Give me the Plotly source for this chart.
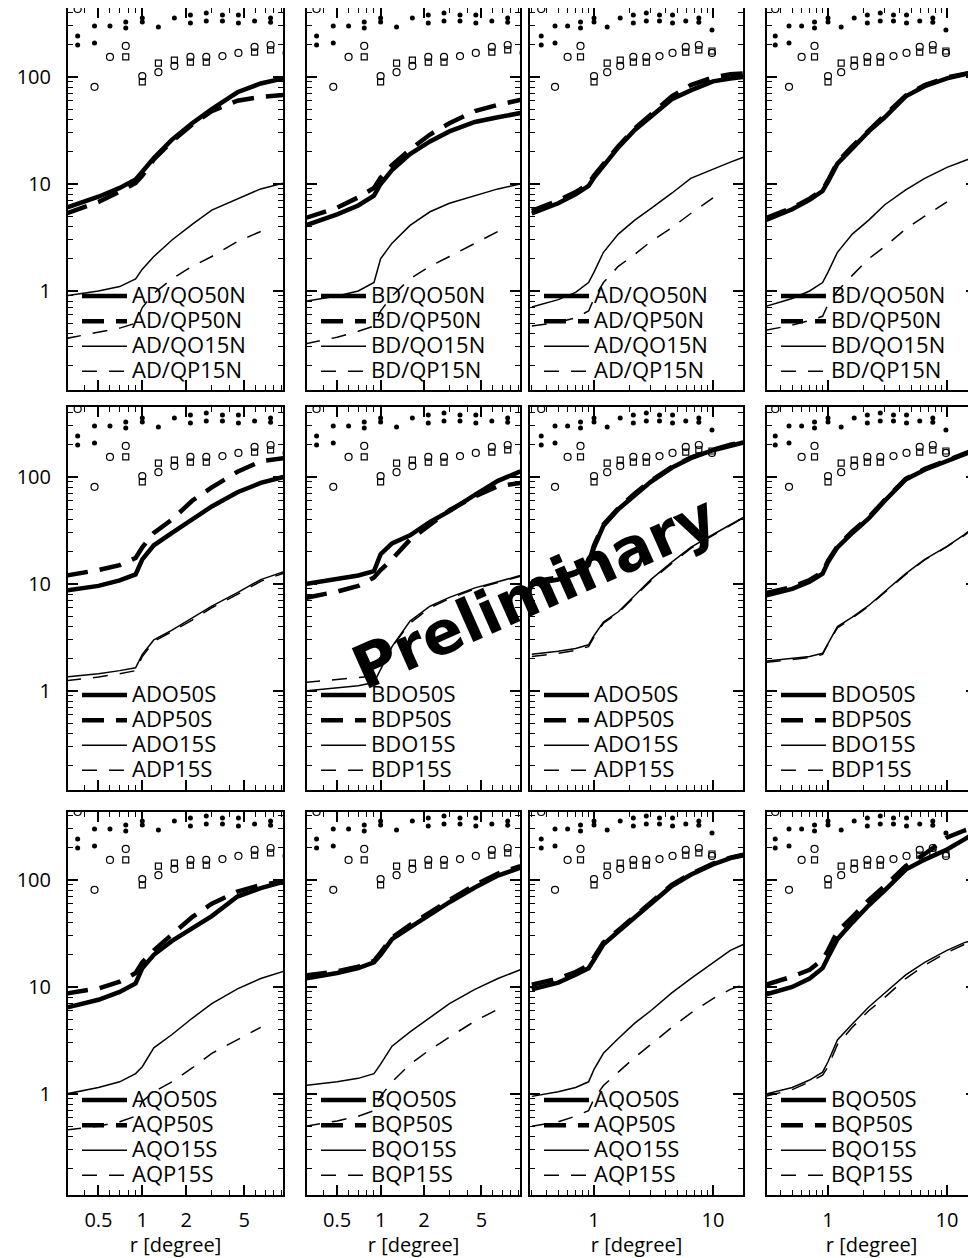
import plotly.graph_objects as go

# ---------------- data ----------------
# x grids of the model curves
X_N = [0.3, 0.5, 0.7, 0.9, 1.0, 1.2, 1.6, 2.2, 3.0, 4.5, 6.5, 9.3]
X_W = [0.3, 0.5, 0.7, 0.9, 1.0, 1.2, 1.6, 2.2, 3.0, 4.5, 6.5, 10, 14, 18]

# observational points (identical in every panel)
MARK_X = [0.36, 0.47, 0.6, 0.77, 1.0, 1.29, 1.66, 2.14, 2.75, 3.55, 4.57, 5.9, 7.6, 9.8]
DOT_HI = [242, 300, 300, 327, 356, 293, 356, 379, 396, 379, 379, 333, 356, 275]
DOT_LO = [199, 208, None, 287, 327, None, None, 320, 333, 333, 320, None, 325, None]
RING = [432, 81, 154, 195, 102, 111, 127, 154, 154, 157, 168, 191, 199, 168]
SQUARE = [None, None, None, 154, 90, 135, 144, 138, 138, None, None, 171, 179, 175]

# row 1
R1C1_O50 = [6.0, 7.6, 9.2, 11.0, 13, 17.5, 26, 37, 50, 72, 87, 97]
R1C1_P50 = [5.3, 6.8, 8.5, 10.2, 12, 17, 25, 36, 48, 60, 65, 68]
R1C1_O15 = [0.9, 1.0, 1.1, 1.3, 1.6, 2.1, 3.0, 4.2, 5.7, 7.3, 9.0, 10.2]
R1C1_P15 = [0.36, 0.41, 0.45, 0.5, 0.7, 0.95, 1.3, 1.7, 2.1, 2.9, 3.6, None]

R1C2_O50 = [4.1, 5.2, 6.3, 7.8, 10, 13.5, 19, 25, 31, 38, 42, 46]
R1C2_P50 = [4.8, 6.0, 7.5, 9.2, 11.5, 15, 21, 29, 37, 48, 55, 61]
R1C2_O15 = [0.8, 0.9, 1.0, 1.2, 2.0, 2.8, 4.1, 5.5, 6.6, 7.8, 9.0, 10]
R1C2_P15 = [0.32, 0.37, 0.42, 0.47, 0.65, 0.9, 1.3, 1.7, 2.1, 2.8, 3.6, None]

R1C3_O50 = [5.3, 6.6, 8.0, 9.6, 11.5, 15, 22, 32, 43, 62, 75, 91, 97, 100]
R1C3_P50 = [5.6, 7.0, 8.4, 10, 12, 15.5, 22.5, 33, 45, 66, 84, 99, 106, 108]
R1C3_O15 = [0.71, 0.83, 0.97, 1.2, 1.5, 2.3, 3.4, 4.6, 5.9, 8.2, 11.3, 13.8, 16, 17.8]
R1C3_P15 = [0.47, 0.51, 0.56, 0.65, 0.85, 1.2, 1.7, 2.2, 2.9, 3.9, 5.3, 7.4, None, None]

R1C4_O50 = [4.6, 5.8, 7.1, 8.6, 10.5, 15.5, 21.5, 31, 42, 66, 82, 97, 106, 112]
R1C4_P50 = [4.8, 6.0, 7.3, 8.8, 10.8, 16, 22.5, 32, 44, 67, 84, 99, 108, 113]
R1C4_O15 = [0.72, 0.85, 1.0, 1.2, 1.5, 2.3, 3.4, 4.6, 6.4, 8.8, 11.3, 14.3, 16.5, 18.3]
R1C4_P15 = [0.43, 0.48, 0.53, 0.58, 0.75, 1.0, 1.4, 2.0, 2.6, 3.8, 5.0, 6.8, None, None]

# row 2
R2C1_O50 = [8.7, 9.6, 10.8, 12.3, 17, 23, 30, 40, 53, 72, 88, 100]
R2C1_P50 = [12, 13.5, 15, 17.5, 22, 30, 40, 60, 80, 112, 140, 150]
R2C1_O15 = [1.35, 1.45, 1.55, 1.65, 2.2, 3.0, 3.7, 4.8, 6.2, 8.3, 11, 13]
R2C1_P15 = [1.25, 1.35, 1.45, 1.55, 2.1, 2.9, 3.6, 4.6, 6.0, 8.0, 10.6, 12.6]

R2C2_O50 = [10, 11, 12, 13.2, 19, 24, 28.5, 38, 48, 68, 92, 113]
R2C2_P50 = [7.4, 8.5, 9.6, 11.5, 13.5, 17, 26, 36, 49, 66, 82, 88]
R2C2_O15 = [1.0, 1.07, 1.12, 1.2, 1.6, 2.6, 4.5, 6.2, 7.5, 9.2, 10.5, 12]
R2C2_P15 = [1.2, 1.28, 1.33, 1.38, 1.7, 2.6, 4.3, 6.0, 7.3, 9.0, 10.3, 11.8]

R2C3_O50 = [10, 11, 12.5, 15, 22, 35, 50, 68, 90, 122, 150, 178, 198, 210]
R2C3_P50 = [10.5, 11.5, 13, 15.5, 23, 36, 51, 70, 92, 124, 152, 180, 200, 212]
R2C3_O15 = [2.2, 2.35, 2.5, 2.7, 3.3, 4.4, 5.5, 7.8, 11, 16, 22, 29, 36, 42]
R2C3_P15 = [2.1, 2.25, 2.4, 2.6, 3.2, 4.3, 5.4, 7.6, 10.7, 15.6, 21.5, 28.5, 35.5, 41.5]

R2C4_O50 = [7.8, 9.0, 10.5, 12.5, 16, 22, 30, 41, 60, 95, 117, 142, 165, 182]
R2C4_P50 = [8.2, 9.4, 10.9, 12.9, 16.5, 22.5, 31, 42, 61, 96, 119, 144, 167, 184]
R2C4_O15 = [1.9, 2.0, 2.1, 2.25, 2.8, 4.0, 4.9, 6.3, 8.5, 12.5, 17, 22.5, 29, 36]
R2C4_P15 = [1.85, 1.95, 2.05, 2.2, 2.75, 3.9, 4.8, 6.2, 8.4, 12.3, 16.8, 22.3, 28.5, 35]

# row 3
R3C1_O50 = [6.4, 7.6, 9.0, 10.8, 15, 20, 27, 35, 46, 70, 84, 96]
R3C1_P50 = [8.7, 9.7, 11.2, 13.5, 17, 22, 31, 45, 60, 78, 90, 97]
R3C1_O15 = [1.0, 1.15, 1.3, 1.55, 1.8, 2.7, 3.6, 5.1, 7.0, 9.6, 12, 14]
R3C1_P15 = [0.46, 0.5, 0.55, 0.62, 0.85, 1.05, 1.3, 1.75, 2.4, 3.2, 4.2, None]

R3C2_O50 = [12, 13.5, 15, 17, 20, 28, 36, 48, 62, 85, 110, 130]
R3C2_P50 = [12.8, 14, 15.5, 17.5, 21, 29, 38, 50, 65, 90, 115, 135]
R3C2_O15 = [1.2, 1.3, 1.4, 1.55, 1.9, 2.8, 3.8, 5.2, 7.0, 9.5, 12, 14.5]
R3C2_P15 = [0.5, 0.56, 0.62, 0.7, 0.95, 1.3, 1.9, 2.6, 3.4, 4.8, 6.2, None]

R3C3_O50 = [9.5, 11, 13, 15, 18, 25, 33, 45, 60, 88, 112, 140, 160, 170]
R3C3_P50 = [10.5, 12, 13.8, 16, 19, 26, 34, 46, 62, 90, 114, 142, 162, 172]
R3C3_O15 = [0.95, 1.05, 1.15, 1.3, 1.7, 2.4, 3.3, 4.6, 6.0, 8.8, 12, 17, 22, 25]
R3C3_P15 = [0.5, 0.55, 0.62, 0.7, 0.9, 1.2, 1.6, 2.2, 2.9, 4.2, 5.7, 7.8, 9.5, 10.5]

R3C4_O50 = [8.5, 10, 12, 15, 19, 28, 40, 58, 80, 125, 155, 193, 240, 285]
R3C4_P50 = [10.5, 12.5, 14.5, 18, 22, 33, 45, 65, 88, 135, 175, 250, 290, 315]
R3C4_O15 = [1.0, 1.15, 1.35, 1.6, 2.0, 3.2, 4.5, 6.5, 8.8, 13, 17, 22, 26, 28]
R3C4_P15 = [0.95, 1.1, 1.3, 1.5, 1.8, 2.9, 4.2, 6.0, 8.0, 12, 16, 21, 25, 27]

# legend labels per row / column prefix
ROW1_LABELS = ["{}/QO50N", "{}/QP50N", "{}/QO15N", "{}/QP15N"]
ROW2_LABELS = ["{}O50S", "{}P50S", "{}O15S", "{}P15S"]
ROW3_LABELS = ["{}O50S", "{}P50S", "{}O15S", "{}P15S"]
ROW_PREFIX = [["AD", "BD", "AD", "BD"], ["AD", "BD", "AD", "BD"], ["AQ", "BQ", "AQ", "BQ"]]

Y_TICKS = [1, 10, 100]
Y_TICKTEXT = ["1", "10", "100"]
Y_MINOR = [0.2, 0.3, 0.4, 0.5, 0.6, 0.7, 0.8, 0.9, 2, 3, 4, 5, 6, 7, 8, 9,
           20, 30, 40, 50, 60, 70, 80, 90, 200, 300, 400]
XN_TICKS = [0.5, 1, 2, 5]
XN_MINOR = [0.3, 0.4, 0.6, 0.7, 0.8, 0.9, 3, 4, 6, 7, 8, 9]
XW_TICKS = [1, 10]
XW_MINOR = [0.3, 0.4, 0.5, 0.6, 0.7, 0.8, 0.9, 2, 3, 4, 5, 6, 7, 8, 9]

PANELS = [
    [(R1C1_O50, R1C1_P50, R1C1_O15, R1C1_P15), (R1C2_O50, R1C2_P50, R1C2_O15, R1C2_P15),
     (R1C3_O50, R1C3_P50, R1C3_O15, R1C3_P15), (R1C4_O50, R1C4_P50, R1C4_O15, R1C4_P15)],
    [(R2C1_O50, R2C1_P50, R2C1_O15, R2C1_P15), (R2C2_O50, R2C2_P50, R2C2_O15, R2C2_P15),
     (R2C3_O50, R2C3_P50, R2C3_O15, R2C3_P15), (R2C4_O50, R2C4_P50, R2C4_O15, R2C4_P15)],
    [(R3C1_O50, R3C1_P50, R3C1_O15, R3C1_P15), (R3C2_O50, R3C2_P50, R3C2_O15, R3C2_P15),
     (R3C3_O50, R3C3_P50, R3C3_O15, R3C3_P15), (R3C4_O50, R3C4_P50, R3C4_O15, R3C4_P15)],
]
ROW_LABELS = [ROW1_LABELS, ROW2_LABELS, ROW3_LABELS]

# ---------------- layout geometry (screen pixels) ----------------
PAGE_PAD = 8                      # default body margin of the html page
W, H = 976 - PAGE_PAD, 1258 - PAGE_PAD
COL_PX = [(68, 283), (307, 520), (530, 743), (767, 976)]
ROW_PX = [(8, 390), (407, 790), (812, 1195)]
ROW_Y100 = [77, 477, 880]         # screen row of the "100" tick
PX_PER_DECADE = 107
X_RANGE = [[-0.51, 0.966], [-0.51, 0.966], [-0.538, 1.252], [-0.513, 1.244]]


def px_x(v):
    return min(1.0, max(0.0, (v - PAGE_PAD) / W))


def px_y(v):
    return min(1.0, max(0.0, 1 - (v - PAGE_PAD) / H))


LINE_STYLES = [
    dict(width=4.5, dash="solid"),
    dict(width=4.5, dash="22px,12px"),
    dict(width=1.5, dash="solid"),
    dict(width=1.5, dash="15px,12px"),
]
FONT = "Open Sans, Noto Sans, sans-serif"

fig = go.Figure()
layout = dict(
    width=W, height=H, margin=dict(l=0, r=0, t=0, b=0),
    paper_bgcolor="white", plot_bgcolor="white", showlegend=True,
    font=dict(family=FONT, color="black"),
)

k = 0
for r in range(3):
    for c in range(4):
        k += 1
        xs = X_N if c < 2 else X_W
        xa = "x" if k == 1 else f"x{k}"
        ya = "y" if k == 1 else f"y{k}"
        lg = "legend" if k == 1 else f"legend{k}"
        series = PANELS[r][c]
        labels = [t.format(ROW_PREFIX[r][c]) for t in ROW_LABELS[r]]
        for vals, lab, st in zip(series, labels, LINE_STYLES):
            fig.add_trace(go.Scatter(
                x=xs, y=vals, mode="lines", xaxis=xa, yaxis=ya, legend=lg,
                name='<span style="font-size:22px">%s</span>' % lab,
                line=dict(color="black", width=st["width"], dash=st["dash"]),
            ))
        # observational points
        fig.add_trace(go.Scatter(x=MARK_X, y=DOT_HI, mode="markers", xaxis=xa, yaxis=ya,
                                 showlegend=False, marker=dict(symbol="circle", size=5, color="black")))
        fig.add_trace(go.Scatter(x=MARK_X, y=DOT_LO, mode="markers", xaxis=xa, yaxis=ya,
                                 showlegend=False, marker=dict(symbol="circle", size=5, color="black")))
        fig.add_trace(go.Scatter(x=MARK_X, y=RING, mode="markers", xaxis=xa, yaxis=ya,
                                 showlegend=False,
                                 marker=dict(symbol="circle-open", size=7, color="black", line=dict(width=1.2))))
        fig.add_trace(go.Scatter(x=MARK_X, y=SQUARE, mode="markers", xaxis=xa, yaxis=ya,
                                 showlegend=False,
                                 marker=dict(symbol="square-open", size=6, color="black", line=dict(width=1.2))))

        x0, x1 = COL_PX[c]
        y0, y1 = ROW_PX[r]
        y_range = [2 - (y1 - ROW_Y100[r]) / PX_PER_DECADE, 2 + (ROW_Y100[r] - y0) / PX_PER_DECADE]
        common = dict(type="log", showline=True, linecolor="black", linewidth=2, mirror="ticks",
                      ticks="inside", ticklen=10, tickwidth=1.5, tickcolor="black",
                      showgrid=False, zeroline=False, automargin=False, fixedrange=True,
                      tickfont=dict(family=FONT, size=20, color="black"))
        xaxis = dict(common, domain=[px_x(x0), px_x(x1)], range=X_RANGE[c], anchor=ya,
                     tickmode="array",
                     tickvals=XN_TICKS if c < 2 else XW_TICKS,
                     ticktext=[str(v) for v in (XN_TICKS if c < 2 else XW_TICKS)],
                     minor=dict(ticks="inside", ticklen=5, tickwidth=1.2, tickcolor="black",
                                tickmode="array", tickvals=XN_MINOR if c < 2 else XW_MINOR,
                                showgrid=False),
                     showticklabels=(r == 2), ticklabelstandoff=6)
        if r == 2:
            xaxis["title"] = dict(text="r [degree]", font=dict(family=FONT, size=20, color="black"),
                                  standoff=6)
        yaxis = dict(common, domain=[px_y(y1), px_y(y0)], range=y_range, anchor=xa,
                     tickmode="array", tickvals=Y_TICKS, ticktext=Y_TICKTEXT,
                     minor=dict(ticks="inside", ticklen=5, tickwidth=1.2, tickcolor="black",
                                tickmode="array", tickvals=Y_MINOR, showgrid=False),
                     showticklabels=(c == 0), ticklabelstandoff=11)
        layout["xaxis" if k == 1 else f"xaxis{k}"] = xaxis
        layout["yaxis" if k == 1 else f"yaxis{k}"] = yaxis
        layout[lg] = dict(x=px_x(x0 + 9), y=px_y(y0 + 326), xanchor="left", yanchor="middle",
                          bgcolor="rgba(0,0,0,0)", borderwidth=0, tracegroupgap=0, itemwidth=45,
                          font=dict(family=FONT, size=17, color="black"))

layout["annotations"] = [dict(
    text="<b>Preliminary</b>", x=px_x(534), y=px_y(592), xref="paper", yref="paper",
    xanchor="center", yanchor="middle", showarrow=False, textangle=-24,
    font=dict(family="DejaVu Sans", size=60, color="black"),
)]

fig.update_layout(**layout)
fig.write_html("out.html")
